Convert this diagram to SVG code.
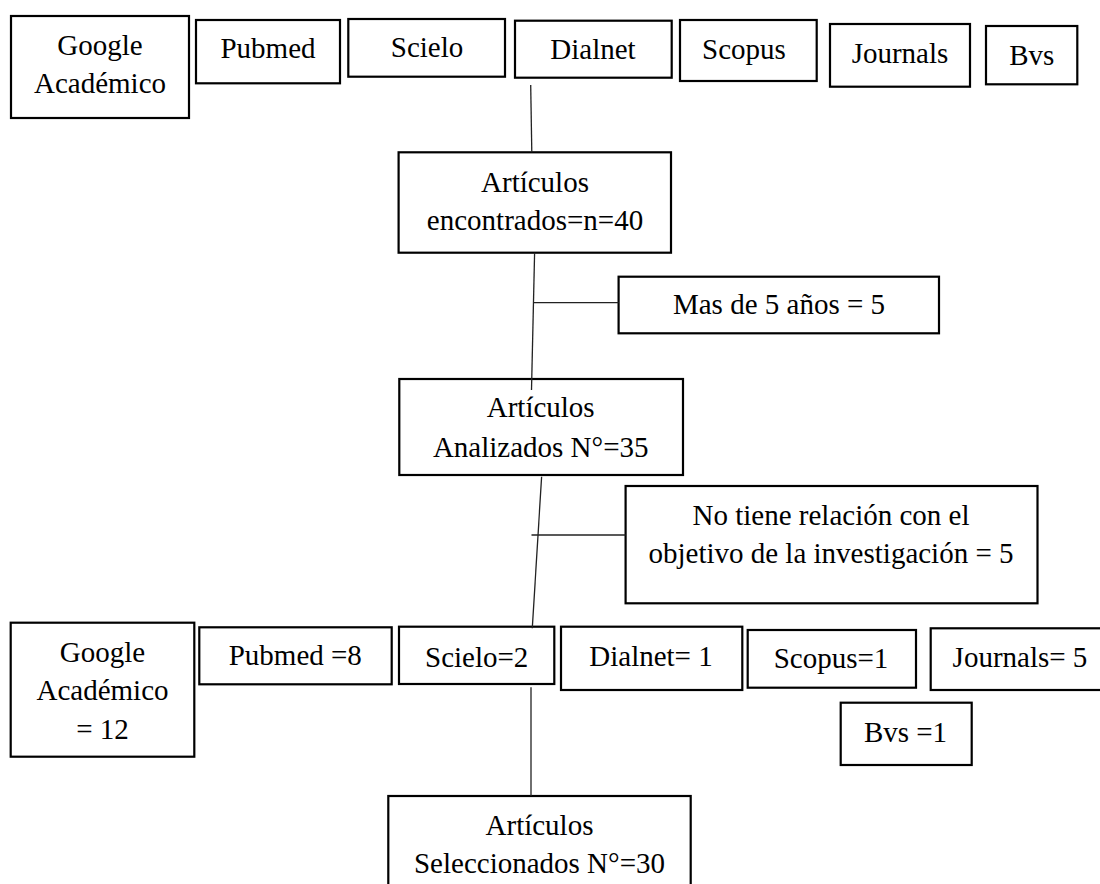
<svg xmlns="http://www.w3.org/2000/svg" width="1100" height="884" viewBox="0 0 1100 884">
<style>
.box{fill:#fff;stroke:#000;stroke-width:2.2}
.t{font-family:"Liberation Serif","Times New Roman",serif;font-size:29px;fill:#000;text-anchor:middle}
.ln{stroke:#222;stroke-width:1.3;fill:none}
</style>
<rect width="1100" height="884" fill="#fff"/>
<g id="n-google1"><rect class="box" x="11" y="16" width="178" height="102"/><text class="t" x="100" y="55">Google</text><text class="t" x="100" y="93.3">Académico</text></g>
<g id="n-pubmed1"><rect class="box" x="196" y="20" width="144" height="63.3"/><text class="t" x="268" y="58.3">Pubmed</text></g>
<g id="n-scielo1"><rect class="box" x="348.3" y="19" width="156.7" height="57.7"/><text class="t" x="427" y="57.3">Scielo</text></g>
<g id="n-dialnet1"><rect class="box" x="515" y="20.7" width="156.7" height="57"/><text class="t" x="593" y="59">Dialnet</text></g>
<g id="n-scopus1"><rect class="box" x="680" y="20" width="136.7" height="61"/><text class="t" x="744" y="59.3">Scopus</text></g>
<g id="n-journals1"><rect class="box" x="830" y="24" width="140" height="62.7"/><text class="t" x="900" y="63.3">Journals</text></g>
<g id="n-bvs1"><rect class="box" x="986" y="26" width="91.3" height="58.3"/><text class="t" x="1031.7" y="65">Bvs</text></g>
<g id="n-encontrados"><rect class="box" x="398.6" y="152.3" width="272.4" height="100.4"/><text class="t" x="535" y="191.7">Artículos</text><text class="t" x="535" y="230">encontrados=n=40</text></g>
<g id="n-mas5"><rect class="box" x="618.6" y="276.7" width="320.4" height="56.6"/><text class="t" x="779" y="314">Mas de 5 años = 5</text></g>
<g id="n-analizados"><rect class="box" x="399.3" y="379" width="283.7" height="96"/><text class="t" x="540.7" y="417.3">Artículos</text><text class="t" x="540.7" y="456.7">Analizados N°=35</text></g>
<g id="n-norel"><rect class="box" x="625.6" y="486" width="411.9" height="117.3"/><text class="t" x="831" y="525">No tiene relación con el</text><text class="t" x="831" y="563.3">objetivo de la investigación = 5</text></g>
<g id="n-google2"><rect class="box" x="10.7" y="622.7" width="183.6" height="134"/><text class="t" x="102.5" y="661.7">Google</text><text class="t" x="102.5" y="700">Académico</text><text class="t" x="102.5" y="739.3">= 12</text></g>
<g id="n-pubmed2"><rect class="box" x="199.3" y="627.3" width="192.4" height="57"/><text class="t" x="295.3" y="665">Pubmed =8</text></g>
<g id="n-scielo2"><rect class="box" x="399" y="626.7" width="155.3" height="57.3"/><text class="t" x="476.7" y="666.7">Scielo=2</text></g>
<g id="n-dialnet2"><rect class="box" x="561" y="626.7" width="181.3" height="63.3"/><text class="t" x="651" y="666">Dialnet= 1</text></g>
<g id="n-scopus2"><rect class="box" x="747.7" y="630" width="168.3" height="57.7"/><text class="t" x="831" y="668.3">Scopus=1</text></g>
<g id="n-journals2"><rect class="box" x="930.7" y="628.3" width="175" height="61.7"/><text class="t" x="1020" y="666.7">Journals= 5</text></g>
<g id="n-bvs2"><rect class="box" x="840.7" y="702.7" width="131" height="62.3"/><text class="t" x="905.5" y="741.7">Bvs =1</text></g>
<g id="n-seleccionados"><rect class="box" x="388.3" y="796" width="302.4" height="100"/><text class="t" x="539.5" y="835">Artículos</text><text class="t" x="539.5" y="873.3">Seleccionados N°=30</text></g>
<g id="connectors">
<line class="ln" x1="530.7" y1="85" x2="531.8" y2="152.3"/>
<line class="ln" x1="534.6" y1="252.7" x2="531.5" y2="390"/>
<line class="ln" x1="533" y1="302.7" x2="618.6" y2="302.7"/>
<line class="ln" x1="541.6" y1="476.7" x2="532.3" y2="628.3"/>
<line class="ln" x1="531.5" y1="535" x2="625.6" y2="535"/>
<line class="ln" x1="531" y1="687.3" x2="531" y2="796"/>
</g>
</svg>
